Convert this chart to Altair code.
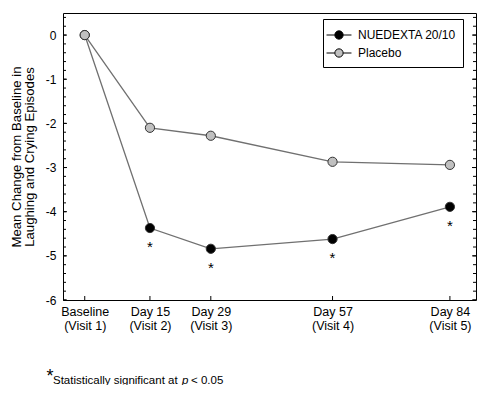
import altair as alt
import pandas as pd

# ---- data ----
days = [0, 15, 29, 57, 84]
label_line1 = ["Baseline", "Day 15", "Day 29", "Day 57", "Day 84"]
label_line2 = ["(Visit 1)", "(Visit 2)", "(Visit 3)", "(Visit 4)", "(Visit 5)"]
nuedexta = [0.0, -4.37, -4.84, -4.62, -3.89]
placebo = [0.0, -2.10, -2.28, -2.87, -2.94]
significant = [False, True, True, True, True]
series_names = ["NUEDEXTA 20/10", "Placebo"]
series_fill = ["#000000", "#c0c0c0"]
y_major = [-6, -5, -4, -3, -2, -1, 0]
y_minor = [round(-6 + 0.2 * i, 1) for i in range(33)]

FONT = "Liberation Sans, Arial, sans-serif"
W, H = 413, 287

rows = []
for name, vals in zip(series_names, [nuedexta, placebo]):
    for d, v, s in zip(days, vals, significant):
        rows.append({"day": d, "val": v, "series": name, "sig": s})
df = pd.DataFrame(rows)
sig_df = df[(df["series"] == series_names[0]) & (df["sig"])]

xscale = alt.Scale(domain=[-5, 90], nice=False, zero=False)
yscale = alt.Scale(domain=[-6, 0.5], nice=False, zero=False)

label_expr = " : ".join(
    f"datum.value == {d} ? ['{a}', '{b}']" for d, a, b in zip(days, label_line1, label_line2)
) + " : ''"

xaxis = alt.Axis(values=days, labelExpr=label_expr, tickSize=0, domain=False, grid=False,
                 labelFont=FONT, labelFontSize=12.5, labelColor="black", labelPadding=5,
                 labelBaseline="top", labelLineHeight=14.5, labelOverlap=False, labelFlush=False,
                 title=None)
yaxis = alt.Axis(values=y_major, labelExpr="'' + datum.value", tickSize=0, domain=False, grid=False,
                 labelFont=FONT, labelFontSize=12, labelColor="black", labelPadding=7,
                 title=["Mean Change from Baseline in", "Laughing and Crying Episodes"],
                 titleFont=FONT, titleFontSize=13.2, titleFontWeight="normal", titleColor="black",
                 titleLineHeight=12.5, titlePadding=9)

X = alt.X("day:Q", scale=xscale, axis=xaxis)
Y = alt.Y("val:Q", scale=yscale, axis=yaxis)

lines = alt.Chart(df).mark_line(color="#707070", strokeWidth=1.3).encode(
    x=X, y=Y, detail="series:N"
)

sym_path = "M-1.5,0L-0.5,0M0.5,0L1.5,0M0.5,0A0.5,0.5,0,1,1,-0.5,0A0.5,0.5,0,1,1,0.5,0"
points = alt.Chart(df).mark_point(filled=True, size=85, stroke="#333333", strokeWidth=1,
                                  opacity=1).encode(
    x=X, y=Y,
    fill=alt.Fill("series:N", scale=alt.Scale(domain=series_names, range=series_fill),
                  legend=alt.Legend(title=None, orient="none", legendX=260, legendY=6,
                                    direction="vertical", strokeColor="black", fillColor="white",
                                    padding=7, labelFont=FONT, labelFontSize=12,
                                    labelColor="black", symbolType=sym_path, symbolSize=277,
                                    symbolStrokeColor="black", symbolStrokeWidth=1,
                                    labelOffset=10, rowPadding=2)),
)

stars = alt.Chart(sig_df).mark_text(text="*", fontSize=15, font=FONT, dy=19,
                                    baseline="middle", color="black").encode(x=X, y=Y)

ymaj = pd.DataFrame({"val": y_major})
ymin = pd.DataFrame({"val": y_minor})
xt = pd.DataFrame({"day": days})
tick_style = dict(color="black", strokeWidth=1)
ticks = [
    alt.Chart(ymaj).mark_rule(**tick_style).encode(y=Y, x=alt.value(0), x2=alt.value(4)),
    alt.Chart(ymaj).mark_rule(**tick_style).encode(y=Y, x=alt.value(W - 4), x2=alt.value(W)),
    alt.Chart(ymin).mark_rule(**tick_style).encode(y=Y, x=alt.value(0), x2=alt.value(3)),
    alt.Chart(ymin).mark_rule(**tick_style).encode(y=Y, x=alt.value(W - 3), x2=alt.value(W)),
    alt.Chart(xt).mark_rule(**tick_style).encode(x=X, y=alt.value(H), y2=alt.value(H - 4)),
]

foot_star = alt.Chart().mark_text(text="*", fontSize=18, font=FONT, align="center",
                                  baseline="middle", color="black").encode(
    x=alt.value(-13), y=alt.value(364))
foot1 = alt.Chart().mark_text(text="Statistically significant at", fontSize=11.5, font=FONT,
                              align="left", baseline="middle", color="black").encode(
    x=alt.value(-10), y=alt.value(368))
foot2 = alt.Chart().mark_text(text="p", fontSize=11.5, font=FONT, fontStyle="italic",
                              align="left", baseline="middle", color="black").encode(
    x=alt.value(119), y=alt.value(368))
foot3 = alt.Chart().mark_text(text="< 0.05", fontSize=11.5, font=FONT,
                              align="left", baseline="middle", color="black").encode(
    x=alt.value(128), y=alt.value(368))

chart = alt.layer(lines, *ticks, points, stars, foot_star, foot1, foot2, foot3).properties(
    width=W, height=H,
    autosize=alt.AutoSizeParams(type="none"),
    padding={"left": 55, "top": 5, "right": 15, "bottom": 85},
).configure_view(stroke="black", strokeWidth=1)

chart.save("out.html", embed_options={"renderer": "svg", "actions": False})
